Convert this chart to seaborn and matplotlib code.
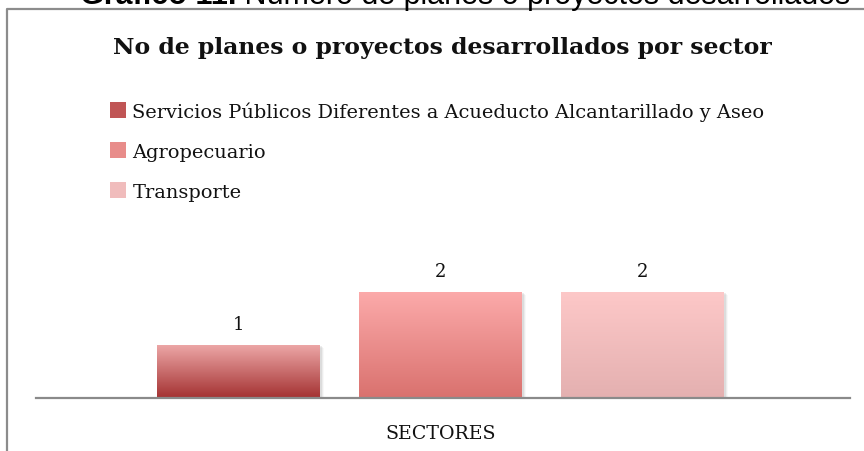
import numpy as np
import pandas as pd
import matplotlib
matplotlib.use("Agg")
import matplotlib.pyplot as plt
import seaborn as sns
from matplotlib.patches import Rectangle, Patch
from matplotlib.lines import Line2D
from matplotlib.colors import to_rgb

# ---- data ----
category = ["SECTORES"]
series = ["Servicios Públicos Diferentes a Acueducto Alcantarillado y Aseo",
          "Agropecuario",
          "Transporte"]
values = [1, 2, 2]
title = "No de planes o proyectos desarrollados por sector"
caption_bold = "Gráfico 11."
caption_rest = " Número de planes o proyectos desarrollados"

# gradient colours (top, bottom) per series
top_colors = ["#eca6a6", "#fcaaaa", "#fdc8c8"]
bottom_colors = ["#a43232", "#d9716e", "#e4b0b0"]
legend_colors = ["#c05555", "#e88c8a", "#f0bcbc"]

df = pd.DataFrame({"sector": category * len(series), "serie": series, "valor": values})

W, H = 864, 452
SERIF = ["DejaVu Serif"]
sns.set_theme(style="white")
plt.rcParams["font.family"] = SERIF
fig = plt.figure(figsize=(W / 100, H / 100), dpi=100)
renderer = fig.canvas.get_renderer()


def fit_size(text, target_px, base=14, **kw):
    t = fig.text(0, 0, text, fontsize=base, **kw)
    w = t.get_window_extent(renderer=renderer).width
    t.remove()
    return base * target_px / w


ax_left, ax_right, ax_bottom, ax_top = 36, 850, 399, 293
ax = fig.add_axes([ax_left / W, (H - ax_bottom) / H,
                   (ax_right - ax_left) / W, (ax_bottom - ax_top) / H])

sns.barplot(data=df, x="sector", y="valor", hue="serie", hue_order=series,
            palette=legend_colors, width=0.744, gap=0.193, legend=False, ax=ax)

# gradient fills + soft shadow
bars = [p for p in ax.patches if isinstance(p, Rectangle)]
for i, p in enumerate(bars):
    x0, y0, w, h = p.get_x(), p.get_y(), p.get_width(), p.get_height()
    c_top = np.array(to_rgb(top_colors[i]))
    c_bot = np.array(to_rgb(bottom_colors[i]))
    t = np.linspace(0, 1, 256)[:, None]
    grad = (c_bot * (1 - t) + c_top * t)
    img = np.repeat(grad[:, None, :], 2, axis=1)
    for k, a in enumerate([0.10, 0.07, 0.04]):
        dx = (k + 2) * 0.0012
        sh = Rectangle((x0 + dx, y0 - 0.02 * (k + 1)), w, h, transform=ax.transData,
                       facecolor="#555555", edgecolor="none", alpha=a, zorder=1)
        ax.add_patch(sh)
    im = ax.imshow(img, extent=[x0, x0 + w, y0, y0 + h], origin="lower",
                   aspect="auto", zorder=2, interpolation="bilinear")
    im.set_clip_path(p)
    p.set_facecolor("none")
    p.set_edgecolor("none")
    ax.annotate(f"{values[i]}", (x0 + w / 2, y0 + h), xytext=(0, 15),
                textcoords="offset points", ha="center", va="center",
                fontsize=13, color="#111111")
ax.set_xlim(-0.497, 0.503)
ax.set_ylim(0, 2)

for s in ["top", "right", "left"]:
    ax.spines[s].set_visible(False)
ax.spines["bottom"].set_color("#8a8a8a")
ax.spines["bottom"].set_linewidth(1.6)
ax.set_yticks([])
ax.set_xlabel("")
ax.set_ylabel("")
xl_size = fit_size("SECTORES", 111)
ax.tick_params(axis="x", length=0, pad=19, labelsize=xl_size, labelcolor="#111111")
ax.set_facecolor("none")

# title
t_size = fit_size(title, 657, fontweight="bold")
fig.text(113 / W, 1 - 48 / H, title, ha="left", va="center", fontsize=t_size,
         fontweight="bold", color="#111111")

# legend
l_size = fit_size(series[0], 632)
handles = [Patch(facecolor=c, edgecolor="none") for c in legend_colors]
leg = fig.legend(handles, series, loc="upper left",
                 bbox_to_anchor=(110 / W, 1 - 102 / H), frameon=False,
                 fontsize=l_size, handlelength=0.85, handleheight=0.85,
                 handletextpad=0.3, labelspacing=1.12, borderpad=0, borderaxespad=0)
for tx in leg.get_texts():
    tx.set_color("#111111")

# frame border
fig.add_artist(Line2D([7 / W, 7 / W, 1.0], [0.0, 1 - 10 / H, 1 - 10 / H],
                      transform=fig.transFigure, color="#8c8c8c", lw=1.6))

# caption (cut off at the top edge, as in the reference)
c_size = fit_size(caption_bold + caption_rest, 770, family="Liberation Sans")
cap_y = 1 - 4 / H
tb = fig.text(80 / W, cap_y, caption_bold, ha="left", va="baseline", fontsize=c_size,
              fontweight="bold", family="Liberation Sans", color="black")
bb = tb.get_window_extent(renderer=renderer)
fig.text(bb.x1 / W, cap_y, caption_rest, ha="left", va="baseline", fontsize=c_size,
         family="Liberation Sans", color="black")

fig.savefig("out.png", dpi=100)
